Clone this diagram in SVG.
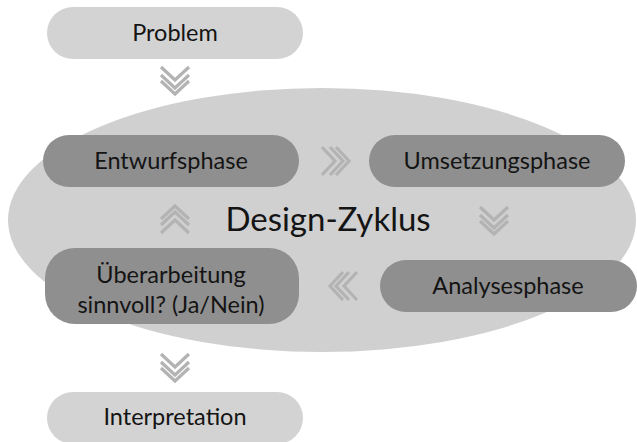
<svg xmlns="http://www.w3.org/2000/svg" width="637" height="442" viewBox="0 0 637 442">
<style>
.light{fill:#d3d3d3}
.dark{fill:#8f8f8f}
.ell{fill:#d0d0d0}
text{font-family:Lato,"Liberation Sans",sans-serif;fill:#141414;text-anchor:middle}
.lbl{font-size:23.5px}
.big{font-size:33px}
.chev{fill:none;stroke:#b3b3b3;stroke-width:3.2;stroke-linejoin:miter}
</style>
<defs>
<g id="chevDown">
<polyline points="-14,-16 0,-3 14,-16"/>
<polyline points="-14,-8 0,5 14,-8"/>
<polyline points="-14,-2 0,11 14,-2"/>
</g>
</defs>
<rect width="637" height="442" fill="#ffffff"/>
<g id="cycle">
<ellipse class="ell" cx="322" cy="220" rx="314" ry="132"/>
<text class="big" x="328" y="231">Design-Zyklus</text>
</g>
<g id="connectors" class="chev">
<use href="#chevDown" transform="translate(175,83)"/>
<use href="#chevDown" transform="translate(338,161) rotate(-90)"/>
<use href="#chevDown" transform="translate(494,223)"/>
<use href="#chevDown" transform="translate(341,286) rotate(90)"/>
<use href="#chevDown" transform="translate(175,217) rotate(180)"/>
<use href="#chevDown" transform="translate(175,370)"/>
</g>
<g id="problem">
<rect class="light" x="47" y="7" width="256" height="52" rx="26"/>
<text class="lbl" x="175" y="41">Problem</text>
</g>
<g id="entwurf">
<rect class="dark" x="43" y="135" width="256" height="52" rx="26"/>
<text class="lbl" x="171" y="169">Entwurfsphase</text>
</g>
<g id="umsetzung">
<rect class="dark" x="369" y="135" width="256" height="52" rx="26"/>
<text class="lbl" x="497" y="169">Umsetzungsphase</text>
</g>
<g id="analyse">
<rect class="dark" x="380" y="260" width="257" height="52" rx="26"/>
<text class="lbl" x="508" y="294">Analysesphase</text>
</g>
<g id="ueberarbeitung">
<rect class="dark" x="45" y="248" width="254" height="76" rx="30"/>
<text class="lbl" x="171" y="283">Überarbeitung</text>
<text class="lbl" x="171" y="313">sinnvoll? (Ja/Nein)</text>
</g>
<g id="interpretation">
<rect class="light" x="47" y="392" width="256" height="52" rx="26"/>
<text class="lbl" x="175" y="425">Interpretation</text>
</g>
</svg>
